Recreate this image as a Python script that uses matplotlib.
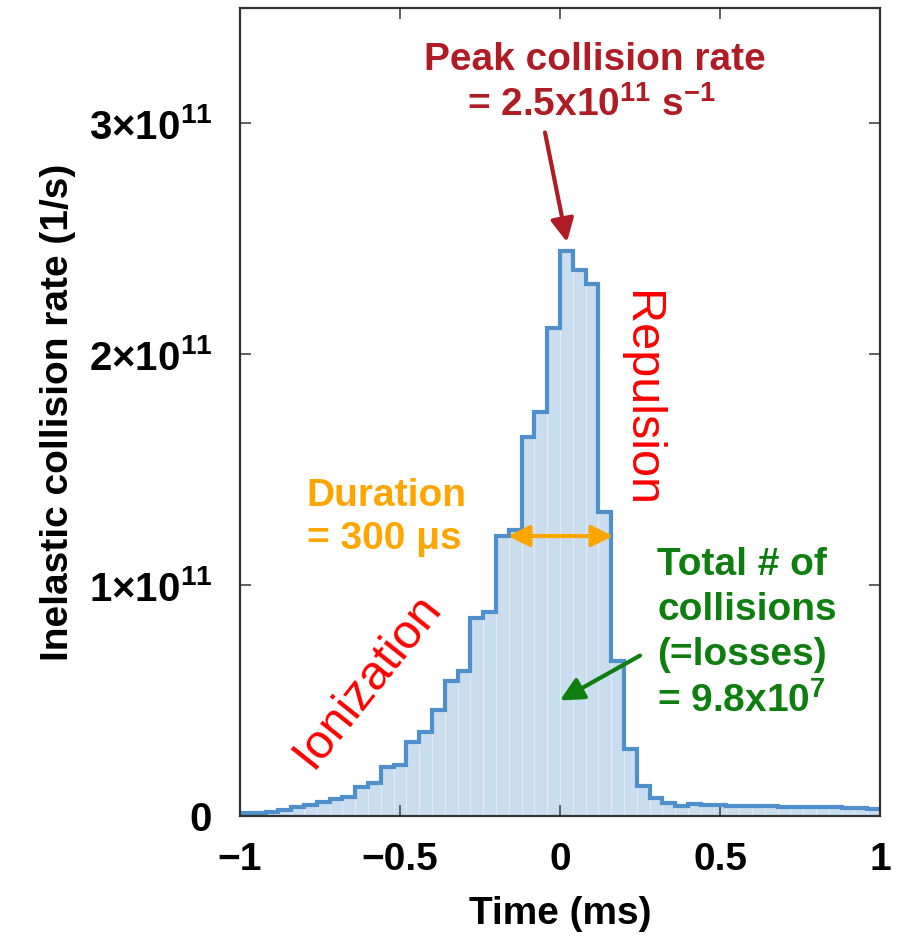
import matplotlib
matplotlib.use('Agg')
import matplotlib.pyplot as plt
import numpy as np

plt.rcParams['font.family'] = ['Liberation Sans', 'DejaVu Sans']
plt.rcParams['font.weight'] = 'bold'
plt.rcParams['mathtext.fontset'] = 'custom'
plt.rcParams['mathtext.rm'] = 'Liberation Sans:bold'
plt.rcParams['mathtext.bf'] = 'Liberation Sans:bold'
plt.rcParams['mathtext.it'] = 'Liberation Sans:bold:italic'

# ---- data ----
bin_start_ms = -1.0
bin_width_ms = 0.04
# inelastic collision rate per bin, in units of 1e11 1/s
rate_1e11 = [0.012, 0.012, 0.019, 0.026, 0.038, 0.047, 0.062, 0.072, 0.081, 0.126,
             0.141, 0.213, 0.220, 0.322, 0.364, 0.460, 0.584, 0.630, 0.856, 0.885,
             1.213, 1.239, 1.640, 1.752, 2.115, 2.446, 2.364, 2.303, 1.316, 0.673,
             0.292, 0.129, 0.080, 0.057, 0.045, 0.050, 0.046, 0.046, 0.045, 0.044,
             0.043, 0.042, 0.041, 0.039, 0.038, 0.039, 0.037, 0.035, 0.033, 0.029]
xticks = [-1, -0.5, 0, 0.5, 1]
xtick_labels = ['\u22121', '\u22120.5', '0', '0.5', '1']
yticks = [0, 1e11, 2e11, 3e11]
ytick_labels = ['0', '1\u00d710$^{11}$', '2\u00d710$^{11}$', '3\u00d710$^{11}$']

rates = np.array(rate_1e11) * 1e11
n = len(rates)
edges = np.round(bin_start_ms + bin_width_ms * np.arange(n + 1), 6)

fig = plt.figure(figsize=(8.97, 9.44), dpi=100)
ax = fig.add_axes([240/897, (944-816)/944, 640/897, 808/944])

ax.bar(edges[:-1], rates, width=bin_width_ms, align='edge', color='#c9ddef',
       edgecolor='#e6f0f9', linewidth=0.5, zorder=1)
ax.stairs(rates, edges, baseline=None, color='#4f8fcc', lw=3, zorder=2)

ax.set_xlim(-1, 1)
ax.set_ylim(0, 3.5e11)
ax.set_xticks(xticks)
ax.set_xticklabels(xtick_labels)
ax.set_yticks(yticks)
ax.set_yticklabels(ytick_labels)
ax.tick_params(direction='in', length=8, width=1.3, color='#555555',
               top=True, right=True, labelsize=28)
ax.tick_params(axis='x', pad=19)
ax.tick_params(axis='y', pad=20, labelsize=29)
for s in ax.spines.values():
    s.set_linewidth(1.6)
    s.set_color('#333333')

ax.set_xlabel('Time (ms)', fontsize=28, fontweight='bold', labelpad=13)
ax.set_ylabel('Inelastic collision rate (1/s)', fontsize=28, fontweight='bold', labelpad=9)

def dx(px):
    return (px - 240) / 320 - 1

def dy(py):
    return (816 - py) / 231.7 * 1e11

darkred = '#b01c26'
ax.text(dx(595), dy(67), 'Peak collision rate', color=darkred, fontsize=28,
        fontweight='bold', ha='center', va='baseline')
ax.text(dx(592), dy(113), '= 2.5x10$^{11}$ s$^{\u22121}$', color=darkred, fontsize=28,
        fontweight='bold', ha='center', va='baseline')
ax.annotate('', xy=(dx(567), dy(240)), xytext=(dx(545), dy(130)),
            arrowprops=dict(arrowstyle='-|>', color=darkred, lw=3, mutation_scale=35,
                            shrinkA=0, shrinkB=0))

ax.text(dx(640), dy(397), 'Repulsion', color='#ff0000', fontsize=35, fontweight='normal',
        rotation=-90, ha='center', va='center')
ax.text(dx(367), dy(680), 'Ionization', color='#ff0000', fontsize=35, fontweight='normal',
        rotation=51.5, ha='center', va='center', rotation_mode='anchor')

orange = '#ffa500'
ax.text(dx(386), dy(505), 'Duration', color=orange, fontsize=28, fontweight='bold',
        ha='center', va='baseline')
ax.text(dx(384), dy(548), '= 300 \u03bcs', color=orange, fontsize=28, fontweight='bold',
        ha='center', va='baseline')
ax.annotate('', xy=(dx(613), dy(535)), xytext=(dx(508), dy(535)),
            arrowprops=dict(arrowstyle='<|-|>', color=orange, lw=3, mutation_scale=32,
                            shrinkA=0, shrinkB=0))

green = '#0e7f0e'
green_lines = ['Total # of', 'collisions', '(=losses)', '= 9.8x10$^{7}$']
green_base = [574, 619, 664, 712]
for txt, b in zip(green_lines, green_base):
    ax.text(dx(657), dy(b), txt, color=green, fontsize=28, fontweight='bold',
            ha='left', va='baseline')
ax.annotate('', xy=(dx(560), dy(700)), xytext=(dx(640), dy(655)),
            arrowprops=dict(arrowstyle='-|>', color=green, lw=3, mutation_scale=35,
                            shrinkA=0, shrinkB=0))

fig.savefig('out.png', dpi=100)
